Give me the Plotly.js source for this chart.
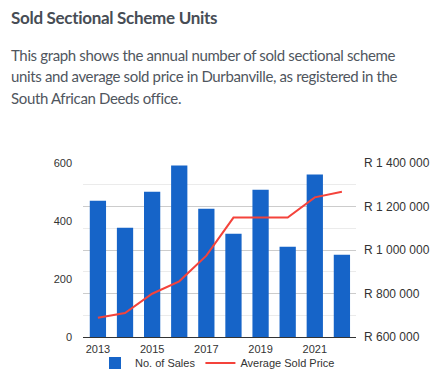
<!DOCTYPE html>
<html>
<head>
<meta charset="utf-8">
<script src="https://cdn.plot.ly/plotly-3.0.1.min.js"></script>
<style>
  html, body { margin: 0; padding: 0; background: #fff; }
  body { width: 435px; height: 385px; position: relative; overflow: hidden; }
  #head { position: absolute; left: 11px; top: 0; width: 424px; font-family: Lato, "Open Sans", sans-serif; }
  #head h1 { margin: 0; position: absolute; top: 7px; left: 0; font-size: 17px; letter-spacing: -0.3px; font-weight: 700; color: #474d55; white-space: nowrap; }
  #head p { margin: 0; position: absolute; top: 45px; left: 0; font-size: 15px; letter-spacing: -0.36px; line-height: 21.3px; color: #50565e; white-space: nowrap; }
  #chart { position: absolute; left: 0; top: 0; width: 435px; height: 385px; }
</style>
</head>
<body>
<div id="chart"></div>
<div id="head">
  <h1>Sold Sectional Scheme Units</h1>
  <p>This graph shows the annual number of sold sectional scheme<br>units and average sold price in Durbanville, as registered in the<br>South African Deeds office.</p>
</div>
<script>
const years = [2013, 2014, 2015, 2016, 2017, 2018, 2019, 2020, 2021, 2022];
const salesCount = [470, 377, 501, 591, 442, 356, 508, 311, 560, 284];
const avgPrice = [689000, 710000, 799000, 856000, 974000, 1149000, 1149000, 1149000, 1242000, 1268000];
const priceTickVals = [600000, 800000, 1000000, 1200000, 1400000];
const priceTickText = ["R 600 000", "R 800 000", "R 1 000 000", "R 1 200 000", "R 1 400 000"];
const seriesNames = ["No. of Sales", "Average Sold Price"];

const traces = [
  {
    type: "bar", x: years, y: salesCount, name: seriesNames[0],
    marker: { color: "#1664c8" }, width: 0.6, yaxis: "y", hoverinfo: "skip"
  },
  {
    type: "scatter", mode: "lines", x: years, y: avgPrice, name: seriesNames[1],
    line: { color: "#f4433b", width: 2 }, yaxis: "y2", hoverinfo: "skip"
  }
];

const tickFont = { family: "Liberation Sans, Arial, sans-serif", size: 11, color: "#333" };
const rightFont = { family: "Liberation Sans, Arial, sans-serif", size: 12, color: "#333" };

const layout = {
  width: 435, height: 385,
  margin: { l: 83, r: 79, t: 163, b: 48, pad: 0 },
  paper_bgcolor: "rgba(0,0,0,0)", plot_bgcolor: "rgba(0,0,0,0)",
  font: tickFont,
  bargap: 0.4,
  xaxis: {
    range: [2012.45, 2022.52], tickvals: [2013, 2015, 2017, 2019, 2021],
    showgrid: false, zeroline: false, showline: true, linecolor: "#333", linewidth: 1,
    ticks: "", tickfont: tickFont, ticklabelstandoff: 2
  },
  yaxis: {
    range: [0, 600], dtick: 200, showgrid: false, zeroline: false, showline: false,
    ticks: "", tickfont: tickFont, ticklabelstandoff: 10
  },
  yaxis2: {
    overlaying: "y", side: "right", range: [600000, 1400000],
    tickvals: priceTickVals, ticktext: priceTickText,
    showgrid: true, gridcolor: "#cccccc", gridwidth: 1, zeroline: false, showline: false,
    minor: { dtick: 100000, showgrid: true, gridcolor: "#ebebeb", gridwidth: 1 },
    ticks: "", tickfont: rightFont, ticklabelstandoff: 7
  },
  showlegend: true,
  legend: {
    orientation: "h", xref: "container", yref: "container", x: 0.5, xanchor: "center",
    y: 0.057, yanchor: "middle", font: tickFont, traceorder: "normal",
    itemwidth: 30, bgcolor: "rgba(0,0,0,0)"
  }
};

Plotly.newPlot("chart", traces, layout, { staticPlot: true, displayModeBar: false });
</script>
</body>
</html>
